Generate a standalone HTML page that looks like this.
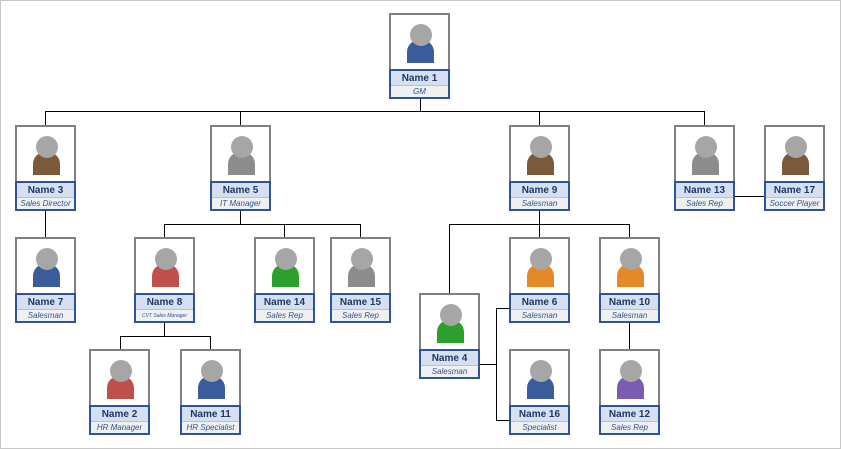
<!DOCTYPE html>
<html><head><meta charset="utf-8"><style>
body{margin:0;width:841px;height:449px;background:#fff;position:relative;overflow:hidden;font-family:"Liberation Sans",sans-serif}
.frame{position:absolute;left:0;top:0;width:839px;height:447px;border:1px solid #c8c8c8}
.n{position:absolute;width:61px;height:86px}
.p{position:absolute;left:0;top:0;width:61px;height:58px;box-sizing:border-box;border:2px solid #808080;background:#fff}
.h{position:absolute;left:19px;top:9px;width:22px;height:22px;border-radius:50%;background:#a6a6a6;z-index:2}
.b{position:absolute;left:16px;top:25px;width:27px;height:23px;border-radius:12px 12px 0 0}
.l{position:absolute;left:0;top:56px;width:61px;height:30px;box-sizing:border-box;border:2px solid #2f5597;background:#f0f0f0}
.nm{height:14px;background:#d6dff0;border-bottom:1px solid #c0c0c0;font-size:10px;font-weight:bold;color:#1f3864;text-align:center;line-height:15px}
.t{font-size:8px;font-style:italic;color:#2f5597;text-align:center;line-height:12px;white-space:nowrap}
.ln{position:absolute;background:#000}
</style></head><body>
<div class="frame"></div>
<div class="ln" style="left:420px;top:98px;width:1px;height:13px"></div>
<div class="ln" style="left:45px;top:111px;width:660px;height:1px"></div>
<div class="ln" style="left:45px;top:111px;width:1px;height:15px"></div>
<div class="ln" style="left:240px;top:111px;width:1px;height:15px"></div>
<div class="ln" style="left:539px;top:111px;width:1px;height:15px"></div>
<div class="ln" style="left:704px;top:111px;width:1px;height:15px"></div>
<div class="ln" style="left:735px;top:196px;width:29px;height:1px"></div>
<div class="ln" style="left:45px;top:210px;width:1px;height:27px"></div>
<div class="ln" style="left:240px;top:210px;width:1px;height:14px"></div>
<div class="ln" style="left:164px;top:224px;width:197px;height:1px"></div>
<div class="ln" style="left:164px;top:224px;width:1px;height:13px"></div>
<div class="ln" style="left:284px;top:224px;width:1px;height:13px"></div>
<div class="ln" style="left:360px;top:224px;width:1px;height:13px"></div>
<div class="ln" style="left:539px;top:210px;width:1px;height:14px"></div>
<div class="ln" style="left:449px;top:224px;width:181px;height:1px"></div>
<div class="ln" style="left:449px;top:224px;width:1px;height:69px"></div>
<div class="ln" style="left:539px;top:224px;width:1px;height:13px"></div>
<div class="ln" style="left:629px;top:224px;width:1px;height:13px"></div>
<div class="ln" style="left:480px;top:364px;width:16px;height:1px"></div>
<div class="ln" style="left:496px;top:308px;width:1px;height:113px"></div>
<div class="ln" style="left:496px;top:308px;width:13px;height:1px"></div>
<div class="ln" style="left:496px;top:420px;width:13px;height:1px"></div>
<div class="ln" style="left:164px;top:322px;width:1px;height:14px"></div>
<div class="ln" style="left:120px;top:336px;width:91px;height:1px"></div>
<div class="ln" style="left:120px;top:336px;width:1px;height:13px"></div>
<div class="ln" style="left:210px;top:336px;width:1px;height:13px"></div>
<div class="ln" style="left:629px;top:322px;width:1px;height:27px"></div>

<div class="n" style="left:389px;top:13px"><div class="p"><div class="h"></div><div class="b" style="background:#3a5c9a"></div></div><div class="l"><div class="nm">Name 1</div><div class="t">GM</div></div></div>

<div class="n" style="left:15px;top:125px"><div class="p"><div class="h"></div><div class="b" style="background:#7b5a3c"></div></div><div class="l"><div class="nm">Name 3</div><div class="t">Sales Director</div></div></div>
<div class="n" style="left:210px;top:125px"><div class="p"><div class="h"></div><div class="b" style="background:#8c8c8c"></div></div><div class="l"><div class="nm">Name 5</div><div class="t">IT Manager</div></div></div>
<div class="n" style="left:509px;top:125px"><div class="p"><div class="h"></div><div class="b" style="background:#7b5a3c"></div></div><div class="l"><div class="nm">Name 9</div><div class="t">Salesman</div></div></div>
<div class="n" style="left:674px;top:125px"><div class="p"><div class="h"></div><div class="b" style="background:#8c8c8c"></div></div><div class="l"><div class="nm">Name 13</div><div class="t">Sales Rep</div></div></div>
<div class="n" style="left:764px;top:125px"><div class="p"><div class="h"></div><div class="b" style="background:#7b5a3c"></div></div><div class="l"><div class="nm">Name 17</div><div class="t">Soccer Player</div></div></div>

<div class="n" style="left:15px;top:237px"><div class="p"><div class="h"></div><div class="b" style="background:#3a5c9a"></div></div><div class="l"><div class="nm">Name 7</div><div class="t">Salesman</div></div></div>
<div class="n" style="left:134px;top:237px"><div class="p"><div class="h"></div><div class="b" style="background:#c0504d"></div></div><div class="l"><div class="nm">Name 8</div><div class="t" style="font-size:5px">CVT Sales Manager</div></div></div>
<div class="n" style="left:254px;top:237px"><div class="p"><div class="h"></div><div class="b" style="background:#2ca02c"></div></div><div class="l"><div class="nm">Name 14</div><div class="t">Sales Rep</div></div></div>
<div class="n" style="left:330px;top:237px"><div class="p"><div class="h"></div><div class="b" style="background:#8c8c8c"></div></div><div class="l"><div class="nm">Name 15</div><div class="t">Sales Rep</div></div></div>
<div class="n" style="left:509px;top:237px"><div class="p"><div class="h"></div><div class="b" style="background:#e3892a"></div></div><div class="l"><div class="nm">Name 6</div><div class="t">Salesman</div></div></div>
<div class="n" style="left:599px;top:237px"><div class="p"><div class="h"></div><div class="b" style="background:#e3892a"></div></div><div class="l"><div class="nm">Name 10</div><div class="t">Salesman</div></div></div>

<div class="n" style="left:419px;top:293px"><div class="p"><div class="h"></div><div class="b" style="background:#2ca02c"></div></div><div class="l"><div class="nm">Name 4</div><div class="t">Salesman</div></div></div>

<div class="n" style="left:89px;top:349px"><div class="p"><div class="h"></div><div class="b" style="background:#c0504d"></div></div><div class="l"><div class="nm">Name 2</div><div class="t">HR Manager</div></div></div>
<div class="n" style="left:180px;top:349px"><div class="p"><div class="h"></div><div class="b" style="background:#3a5c9a"></div></div><div class="l"><div class="nm">Name 11</div><div class="t">HR Specialist</div></div></div>
<div class="n" style="left:509px;top:349px"><div class="p"><div class="h"></div><div class="b" style="background:#3a5c9a"></div></div><div class="l"><div class="nm">Name 16</div><div class="t">Specialist</div></div></div>
<div class="n" style="left:599px;top:349px"><div class="p"><div class="h"></div><div class="b" style="background:#7a5cb0"></div></div><div class="l"><div class="nm">Name 12</div><div class="t">Sales Rep</div></div></div>
</body></html>
